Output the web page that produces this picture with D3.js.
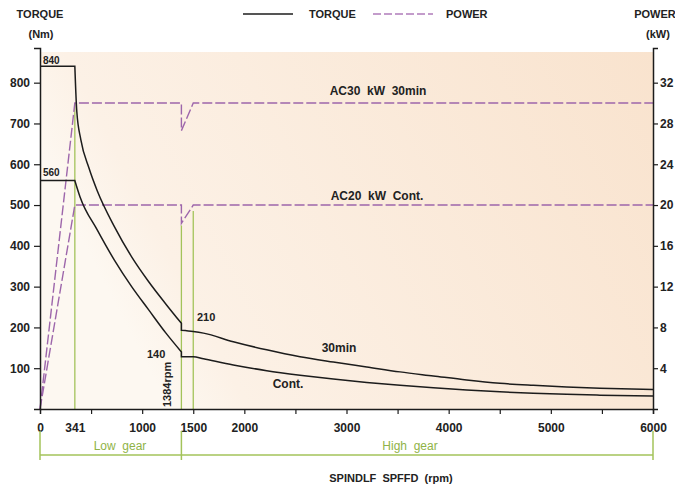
<!DOCTYPE html>
<html lang="en">
<head>
  <meta charset="UTF-8">
  <title>Spindle torque / power</title>
  <script src="https://d3js.org/d3.v7.min.js"></script>
  <style>
    body { margin: 0; background: #fff; }
    text { font-family: "Liberation Sans", Arial, sans-serif; fill: #222; font-weight: bold; }
    .tick text { font-size: 12px; }
    .green { fill: #8fb347; font-weight: normal; }
  </style>
</head>
<body>
  <svg id="chart" width="675" height="488"></svg>
  <script>
    // speed ticks shown on the x axis
    const speedTicks = [0, 500, 1000, 1500, 2000, 2500, 3000, 3500, 4000, 4500, 5000, 5500, 6000];
    const speedLabels = [0, 341, 1000, 1500, 2000, 3000, 4000, 5000, 6000];
    const torqueTicks = [100, 200, 300, 400, 500, 600, 700, 800];
    const powerTicks = [4, 8, 12, 16, 20, 24, 28, 32];

    // [rpm, Nm]
    const torque30 = [[0, 840], [341, 840], [360, 730], [400, 660], [480, 590], [560, 535], [728, 447],
      [897, 373], [1064, 312], [1233, 257], [1384, 210], [1384, 193], [1500, 190], [1600, 186],
      [1892, 165], [2219, 145], [2545, 128], [2871, 115], [3198, 103], [3524, 91], [3850, 81],
      [4176, 71], [4502, 63], [4828, 58], [5155, 54], [5481, 51], [6000, 48]];
    const torqueCont = [[0, 560], [341, 560], [392, 520], [560, 439], [728, 365], [897, 300],
      [1064, 243], [1233, 186], [1384, 140], [1384, 128], [1500, 128], [1600, 123], [1892, 108],
      [2219, 94], [2545, 83], [2871, 73.5], [3198, 65], [3524, 58], [3850, 52], [4176, 46.5],
      [4502, 42], [4828, 38.5], [5155, 36], [5481, 34], [6000, 32]];

    // [rpm, kW]
    const power30 = [[0, 0], [341, 30], [1384, 30], [1384, 27.3], [1500, 30], [6000, 30]];
    const powerCont = [[0, 0], [341, 20], [1384, 20], [1384, 18.2], [1500, 20], [6000, 20]];

    const baseSpeed = 341;
    const shiftSpeed = 1384;
    const markSpeed = 1500;

    const svg = d3.select('#chart');
    const pLeft = 40, pRight = 653, pTop = 48, pBottom = 409;

    const x = d3.scaleLinear().domain([0, 6000]).range([pLeft, pRight]);
    const yT = d3.scaleLinear().domain([0, 885]).range([pBottom, pTop]);
    const yP = d3.scaleLinear().domain([0, 35.4]).range([pBottom, pTop]);

    // background wash
    const grad = svg.append('defs').append('linearGradient')
      .attr('id', 'bg').attr('x1', 0).attr('y1', 0.3).attr('x2', 1).attr('y2', 0);
    grad.append('stop').attr('offset', 0).attr('stop-color', '#fdf8f1');
    grad.append('stop').attr('offset', 0.12).attr('stop-color', '#fcf1e6');
    grad.append('stop').attr('offset', 1).attr('stop-color', '#f9e3ce');
    svg.append('rect')
      .attr('x', pLeft).attr('y', 52).attr('width', pRight - pLeft).attr('height', pBottom - 52)
      .attr('fill', 'url(#bg)');

    // green marker lines
    const green = '#a3c35a';
    const vlines = [
      [baseSpeed, yP(30), pBottom],
      [shiftSpeed, yP(18.2) + 2, pBottom],
      [markSpeed, yP(20) + 6, pBottom]
    ];
    svg.selectAll('.vline').data(vlines).enter().append('line')
      .attr('x1', d => x(d[0])).attr('x2', d => x(d[0]))
      .attr('y1', d => d[1]).attr('y2', d => d[2])
      .attr('stroke', green).attr('stroke-width', 1.3);

    // power (dashed)
    const powerLine = d3.line().x(d => x(d[0])).y(d => yP(d[1]));
    svg.selectAll('.power').data([power30, powerCont]).enter().append('path')
      .attr('d', powerLine)
      .attr('fill', 'none').attr('stroke', '#9d66ab').attr('stroke-width', 1.4)
      .attr('stroke-dasharray', '10,3');

    // torque: smooth pieces between the breaks at base and shift speed
    const smooth = d3.line().x(d => x(d[0])).y(d => yT(d[1])).curve(d3.curveMonotoneX);
    function torquePath(pts) {
      const segs = [];
      let cur = [pts[0]];
      for (let i = 1; i < pts.length; i++) {
        const p = pts[i];
        if (p[0] === cur[cur.length - 1][0]) { segs.push(cur); cur = [p]; continue; }
        cur.push(p);
        if (p[0] === baseSpeed) { segs.push(cur); cur = [p]; }
      }
      segs.push(cur);
      return segs.map((s, i) => {
        const d = s.length > 1 ? smooth(s) : `M${x(s[0][0])},${yT(s[0][1])}`;
        return i ? 'L' + d.slice(1) : d;
      }).join('');
    }
    svg.selectAll('.torque').data([torque30, torqueCont]).enter().append('path')
      .attr('d', torquePath)
      .attr('fill', 'none').attr('stroke', '#1c1c1c').attr('stroke-width', 1.5);

    // axes
    const xAxis = svg.append('g').attr('transform', `translate(0,${pBottom})`)
      .call(d3.axisBottom(x).tickValues(speedTicks.concat([baseSpeed]))
        .tickFormat(d => speedLabels.includes(d) ? d : '').tickSize(5).tickPadding(9));
    xAxis.selectAll('.tick').filter(d => d === 0 || d === baseSpeed).select('line').remove();

    svg.append('g').attr('transform', `translate(${pLeft},0)`)
      .call(d3.axisLeft(yT).tickValues(torqueTicks).tickSize(6).tickPadding(4));
    svg.append('g').attr('transform', `translate(${pRight},0)`)
      .call(d3.axisRight(yP).tickValues(powerTicks).tickSize(5).tickPadding(2));
    svg.selectAll('.domain').attr('stroke', '#1c1c1c').attr('stroke-width', 1.5);
    svg.selectAll('.tick line').attr('stroke', '#1c1c1c').attr('stroke-width', 1.2);
    svg.selectAll('.tick text').style('fill', '#222');

    // gear bands
    const gearY = 455;
    const gears = [['Low gear', 0, shiftSpeed], ['High gear', shiftSpeed, 6000]];
    svg.selectAll('.gearline').data(gears).enter().append('line')
      .attr('x1', d => x(d[1])).attr('x2', d => x(d[2]))
      .attr('y1', gearY).attr('y2', gearY)
      .attr('stroke', green).attr('stroke-width', 1.5);
    svg.selectAll('.gearend').data([0, shiftSpeed, 6000]).enter().append('line')
      .attr('x1', d => x(d)).attr('x2', d => x(d))
      .attr('y1', 431).attr('y2', 460)
      .attr('stroke', green).attr('stroke-width', 1.5);
    svg.append('text').attr('class', 'green').attr('x', 120).attr('y', 450)
      .attr('text-anchor', 'middle').style('font-size', '12px').style('white-space', 'pre').text('Low  gear');
    svg.append('text').attr('class', 'green').attr('x', 410).attr('y', 450)
      .attr('text-anchor', 'middle').style('font-size', '12px').style('white-space', 'pre').text('High  gear');

    // titles and legend
    const label = (tx, ty, s, size, anchor) => svg.append('text')
      .attr('x', tx).attr('y', ty).attr('text-anchor', anchor || 'start')
      .style('font-size', size + 'px').style('white-space', 'pre').text(s);
    label(40, 18, 'TORQUE', 11, 'middle');
    label(41, 38, '(Nm)', 11, 'middle');
    label(655, 18, 'POWER', 11, 'middle');
    label(658, 38, '(kW)', 11, 'middle');
    label(391, 482, 'SPINDLF  SPFFD  (rpm)', 11, 'middle');

    svg.append('line').attr('x1', 243).attr('x2', 293).attr('y1', 14).attr('y2', 14)
      .attr('stroke', '#1c1c1c').attr('stroke-width', 1.5);
    label(309, 18, 'TORQUE', 11);
    svg.append('line').attr('x1', 373).attr('x2', 433).attr('y1', 14).attr('y2', 14)
      .attr('stroke', '#b07cbb').attr('stroke-width', 1.4).attr('stroke-dasharray', '8,3');
    label(446, 18, 'POWER', 11);

    // annotations
    label(43, 64, '840', 10);
    label(43, 176, '560', 10);
    label(378, 95, 'AC30  kW  30min', 12, 'middle');
    label(377, 200, 'AC20  kW  Cont.', 12, 'middle');
    label(197, 321, '210', 11);
    label(147, 358, '140', 11);
    label(339, 352, '30min', 12, 'middle');
    label(288, 388, 'Cont.', 12, 'middle');
    svg.append('text').attr('transform', 'translate(171,407) rotate(-90)')
      .style('font-size', '11px').text('1384rpm');
  </script>
</body>
</html>
